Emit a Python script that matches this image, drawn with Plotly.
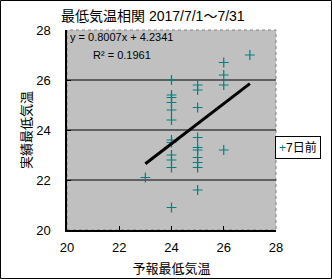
import plotly.graph_objects as go

# ---- data ----
forecast_x = [23,
              24, 24, 24, 24, 24, 24, 24, 24, 24, 24, 24, 24,
              25, 25, 25, 25, 25, 25, 25, 25, 25, 25,
              26, 26, 26, 26,
              27]
actual_y = [22.1,
            26.0, 25.4, 25.3, 25.1, 24.8, 24.4, 23.6, 23.5, 23.0, 22.8, 22.5, 20.9,
            25.8, 25.6, 24.9, 23.7, 23.3, 23.2, 22.9, 22.7, 22.5, 21.6,
            26.7, 26.2, 25.8, 23.2,
            27.0]
series_name = "7日前"
trend_slope = 0.8007
trend_intercept = 4.2341
r_squared = 0.1961
x_ticks = [20, 22, 24, 26, 28]
y_ticks = [20, 22, 24, 26, 28]
title_text = "最低気温相関 2017/7/1～7/31"
x_title = "予報最低気温"
y_title = "実績最低気温"

W, H = 332, 279
L, R, T, B = 67, 56, 30, 49
pw, ph = W - L - R, H - T - B

def px_x(p):
    return (p - L) / pw

def px_y(p):
    return (H - B - p) / ph

FONT = "Liberation Sans, Noto Sans CJK JP, sans-serif"
TEAL = "#008080"

fig = go.Figure()

fig.add_trace(go.Scatter(
    x=forecast_x, y=actual_y, mode="markers", name=series_name,
    marker=dict(symbol="cross-thin", size=7, color=TEAL, line=dict(color=TEAL, width=1.2)),
    showlegend=False, cliponaxis=False))

tx = [min(forecast_x), max(forecast_x)]
ty = [trend_slope * v + trend_intercept for v in tx]
fig.add_trace(go.Scatter(x=tx, y=ty, mode="lines", line=dict(color="black", width=3),
                         showlegend=False))

shapes = []
shapes.append(dict(type="rect", xref="paper", yref="paper", x0=0, x1=1, y0=0, y1=1,
                   line=dict(color="#808080", width=1, dash="dot"), layer="below"))
for v in y_ticks[1:-1]:
    shapes.append(dict(type="line", xref="paper", yref="y", x0=0, x1=1, y0=v, y1=v,
                       line=dict(color="black", width=1.2), layer="below"))
shapes.append(dict(type="rect", xref="paper", yref="paper",
                   x0=px_x(0.5), x1=px_x(W - 0.5), y0=px_y(H - 0.5), y1=px_y(0.5),
                   line=dict(color="black", width=1)))

annotations = [
    dict(text=title_text, xref="paper", yref="paper", x=px_x(153), y=px_y(16),
         xanchor="center", yanchor="middle", showarrow=False,
         font=dict(size=14, color="black", family=FONT)),
    dict(text=f"y = {trend_slope}x + {trend_intercept}", xref="paper", yref="paper",
         x=px_x(121), y=px_y(37), xanchor="center", yanchor="middle", showarrow=False,
         font=dict(size=11, color="black", family=FONT)),
    dict(text=f"R² = {r_squared}", xref="paper", yref="paper",
         x=px_x(122), y=px_y(55), xanchor="center", yanchor="middle", showarrow=False,
         font=dict(size=11, color="black", family=FONT)),
    dict(text=y_title, xref="paper", yref="paper", x=px_x(26), y=px_y(130),
         xanchor="center", yanchor="middle", showarrow=False, textangle=-90,
         font=dict(size=13, color="black", family=FONT)),
    dict(text=f"<span style='color:{TEAL}'>+</span>{series_name}", xref="paper", yref="paper",
         x=px_x(275), y=px_y(136), xanchor="left", yanchor="top", showarrow=False,
         bordercolor="black", borderwidth=1, borderpad=3, bgcolor="white",
         font=dict(size=12, color="black", family=FONT)),
]

fig.update_layout(
    width=W, height=H, margin=dict(l=L, r=R, t=T, b=B),
    paper_bgcolor="white", plot_bgcolor="#C0C0C0",
    font=dict(family=FONT, size=13, color="black"),
    showlegend=False,
    shapes=shapes, annotations=annotations,
    xaxis=dict(range=[20, 28], tickvals=x_ticks, showgrid=False, zeroline=False,
               showline=True, linecolor="black", linewidth=1.5, automargin=False,
               ticks="inside", ticklen=4, tickcolor="black",
               title=dict(text=x_title, standoff=10, font=dict(size=13, color="black")),
               tickfont=dict(size=13, color="black"), ticklabelstandoff=5),
    yaxis=dict(range=[20, 28], tickvals=y_ticks, showgrid=False, zeroline=False,
               showline=True, linecolor="black", linewidth=1.5, automargin=False,
               ticks="inside", ticklen=4, tickcolor="black",
               tickfont=dict(size=13, color="black"), ticklabelstandoff=12),
)

fig.write_html("out.html")
